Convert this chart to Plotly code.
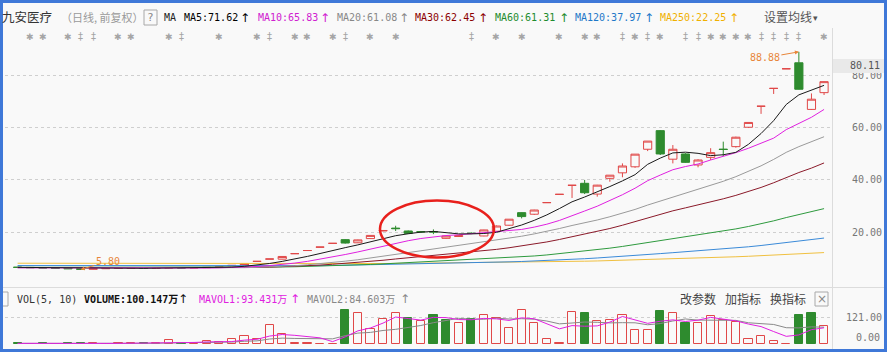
import plotly.graph_objects as go

W, H = 894, 354
def px(x): return x / W
def py(y): return 1 - y / H

# ---------------- data ----------------
idx = list(range(65))
opens = [6.7, 6.6, 6.5, 6.4, 6.3, 6.1, 5.9, 6.1, 6.2, 6.3, 6.4, 6.3, 6.4, 6.5, 6.4, 6.5, 6.6,
         7.25, 7.1, 8.9, 9.79, 9.75, 11.85, 13.04, 14.34, 15.78, 17.2, 16.0, 17.6, 20.5, 21.6,
         20.5, 20.25, 20.3, 17.7, 18.4, 19.65, 18.6, 20.4, 22.7, 27.5, 26.9, 31.3, 34.48, 37.93,
         38.7, 34.6, 40.6, 42.7, 45.0, 51.7, 58.8, 47.9, 49.9, 45.7, 48.6, 51.75, 52.7, 60.1,
         68.11, 74.92, 82.41, 84.7, 66.9, 73.3]
highs = [6.75, 6.65, 6.55, 6.45, 6.35, 6.15, 6.15, 6.25, 6.35, 6.45, 6.45, 6.45, 6.55, 6.55, 6.55, 6.65, 6.75,
         7.37, 8.1, 8.91, 9.8, 10.78, 11.86, 13.05, 14.35, 15.79, 17.37, 17.2, 18.81, 20.69, 22.5,
         20.7, 20.5, 21.1, 18.7, 18.8, 20.0, 20.95, 22.6, 25.0, 27.6, 28.6, 31.35, 34.49, 37.94,
         40.0, 38.1, 41.8, 46.3, 49.83, 54.81, 59.0, 53.3, 50.2, 47.9, 52.1, 54.6, 56.5, 61.93,
         68.12, 74.93, 82.42, 88.88, 73.0, 77.6]
lows = [6.55, 6.45, 6.35, 6.25, 6.05, 5.80, 5.88, 6.05, 6.15, 6.25, 6.25, 6.28, 6.35, 6.35, 6.38, 6.45, 6.55,
        7.2, 7.05, 8.9, 9.79, 9.7, 11.85, 13.04, 14.34, 15.78, 15.7, 15.9, 17.5, 20.4, 20.5,
        19.5, 19.9, 19.3, 17.5, 18.2, 19.3, 18.5, 20.2, 22.5, 25.3, 26.6, 31.3, 34.48, 33.1,
        34.6, 33.6, 39.3, 41.0, 44.6, 51.0, 49.5, 46.3, 46.5, 44.8, 47.6, 49.1, 52.3, 59.8,
        65.2, 72.8, 82.41, 74.5, 66.7, 72.4]
closes = [6.6, 6.5, 6.4, 6.3, 6.1, 5.9, 6.1, 6.2, 6.3, 6.4, 6.3, 6.4, 6.5, 6.4, 6.5, 6.6, 6.7,
          7.37, 8.1, 8.91, 9.8, 10.78, 11.86, 13.05, 14.35, 15.79, 15.9, 17.1, 18.81, 20.69, 21.4,
          19.6, 20.15, 20.1, 18.6, 18.7, 19.55, 20.9, 22.4, 25.0, 26.0, 28.5, 31.35, 34.49, 37.94,
          35.1, 38.0, 41.8, 45.3, 49.83, 54.81, 49.9, 51.7, 46.7, 47.6, 50.4, 51.6, 56.3, 61.93,
          68.12, 74.93, 82.42, 74.6, 70.8, 77.5]

ma5 = [6.62, 6.58, 6.52, 6.45, 6.38, 6.24, 6.16, 6.12, 6.12, 6.18, 6.26, 6.32, 6.38, 6.40, 6.42, 6.48, 6.54,
       6.70, 7.02, 7.48, 8.10, 8.90, 9.80, 10.80, 11.90, 13.10, 14.14, 15.20, 16.34, 17.58, 18.70,
       19.44, 20.06, 20.34, 19.96, 19.40, 19.40, 19.54, 20.00, 21.28, 22.78, 24.56, 26.64, 29.06, 31.64,
       33.46, 35.36, 37.46, 39.62, 42.00, 45.94, 48.32, 50.30, 50.58, 50.14, 49.26, 49.60, 50.52, 53.58,
       57.70, 62.62, 68.80, 72.46, 74.22, 76.08]
ma10 = [6.45, 6.43, 6.41, 6.39, 6.37, 6.34, 6.32, 6.30, 6.29, 6.28, 6.25, 6.24, 6.25, 6.26, 6.30, 6.37, 6.43,
        6.54, 6.71, 6.95, 7.29, 7.72, 8.25, 8.91, 9.69, 10.60, 11.52, 12.50, 13.57, 14.74, 15.90,
        16.79, 17.63, 18.34, 18.77, 19.05, 19.42, 19.80, 20.17, 20.62, 21.09, 21.98, 23.09, 24.53, 26.46,
        28.12, 29.96, 32.05, 34.34, 36.82, 39.70, 41.84, 43.88, 45.10, 46.07, 47.60, 48.96, 50.41, 52.08,
        53.92, 55.94, 59.20, 61.49, 63.90, 66.89]
ma20 = [6.50, 6.49, 6.48, 6.47, 6.46, 6.45, 6.44, 6.43, 6.42, 6.41, 6.40, 6.39, 6.38, 6.37, 6.36, 6.36, 6.36,
        6.42, 6.50, 6.62, 6.77, 6.98, 7.25, 7.59, 8.00, 8.49, 8.98, 9.52, 10.14, 10.85, 11.60,
        12.26, 12.94, 13.63, 14.23, 14.83, 15.47, 16.15, 16.87, 17.68, 18.50, 19.39, 20.36, 21.44, 22.60,
        23.59, 24.69, 25.93, 27.26, 28.72, 30.40, 31.91, 33.49, 34.82, 36.27, 37.86, 39.46, 41.23, 43.21,
        45.37, 47.82, 50.52, 52.69, 54.50, 56.48]
ma30 = [6.55, 6.54, 6.53, 6.52, 6.50, 6.48, 6.46, 6.45, 6.44, 6.43, 6.42, 6.41, 6.40, 6.40, 6.40, 6.40, 6.41,
        6.45, 6.50, 6.58, 6.69, 6.84, 7.02, 7.24, 7.50, 7.81, 8.13, 8.49, 8.90, 9.33, 9.82,
        10.25, 10.71, 11.17, 11.59, 12.01, 12.46, 12.95, 13.48, 14.10, 14.76, 15.50, 16.32, 17.26, 18.30,
        19.26, 20.30, 21.45, 22.70, 24.06, 25.57, 26.87, 28.20, 29.33, 30.44, 31.59, 32.78, 34.09, 35.53,
        37.12, 38.91, 41.01, 42.82, 44.51, 46.47]
ma60 = [6.62, 6.62, 6.61, 6.61, 6.60, 6.60, 6.59, 6.59, 6.58, 6.58, 6.57, 6.57, 6.57, 6.56, 6.56, 6.56, 6.56,
        6.58, 6.60, 6.64, 6.70, 6.77, 6.85, 6.95, 7.07, 7.22, 7.37, 7.54, 7.73, 7.94, 8.19,
        8.40, 8.62, 8.85, 9.05, 9.25, 9.46, 9.70, 9.96, 10.27, 10.59, 10.96, 11.36, 11.83, 12.35,
        12.83, 13.36, 13.95, 14.60, 15.32, 16.13, 16.86, 17.61, 18.29, 18.97, 19.70, 20.46, 21.29, 22.22,
        23.23, 24.37, 25.63, 26.77, 27.84, 29.03]
ma120 = [7.31, 7.30, 7.29, 7.27, 7.26, 7.25, 7.23, 7.22, 7.21, 7.19, 7.18, 7.17, 7.15, 7.14, 7.12, 7.11, 7.10,
         7.10, 7.11, 7.12, 7.13, 7.15, 7.18, 7.22, 7.28, 7.34, 7.42, 7.50, 7.58, 7.67, 7.77,
         7.86, 7.96, 8.05, 8.15, 8.25, 8.35, 8.47, 8.59, 8.72, 8.86, 9.02, 9.20, 9.41, 9.65,
         9.92, 10.20, 10.48, 10.80, 11.15, 11.52, 11.87, 12.22, 12.55, 12.90, 13.25, 13.62, 14.02, 14.47,
         14.96, 15.50, 16.10, 16.69, 17.22, 17.80]
ma250 = [8.20, 8.19, 8.18, 8.17, 8.16, 8.15, 8.14, 8.12, 8.10, 8.08, 7.98, 7.96, 7.95, 7.94, 7.93, 7.92, 7.91,
         7.90, 7.89, 7.89, 7.89, 7.90, 7.90, 7.92, 7.94, 7.96, 7.98, 8.01, 8.04, 8.08, 8.12,
         8.16, 8.20, 8.24, 8.27, 8.30, 8.34, 8.38, 8.43, 8.48, 8.54, 8.61, 8.69, 8.78, 8.88,
         8.97, 9.07, 9.19, 9.32, 9.46, 9.63, 9.77, 9.93, 10.06, 10.20, 10.34, 10.49, 10.66, 10.85,
         11.06, 11.30, 11.56, 11.80, 12.01, 12.26]

volumes = [3, 2, 3, 2, 3, 4, 3, 2, 3, 5, 3, 4, 19, 5, 5, 14, 10, 22, 38, 25, 88, 46, 3, 3, 2, 1,
           156, 141, 70, 114, 141, 122, 104, 133, 109, 96, 117, 136, 122, 73, 156, 96, 22, 3, 148,
           141, 104, 109, 133, 66, 65, 152, 141, 96, 96, 129, 112, 101, 22, 38, 14, 2, 133, 144, 81]
# 1 = up (red, hollow), -1 = down (green, solid)
vol_dir = [-1, -1, -1, -1, -1, -1, 1, 1, 1, 1, -1, 1, 1, -1, 1, 1, 1, 1, 1, 1, 1, 1, 1, 1, 1, 1,
           -1, 1, 1, 1, 1, -1, 1, -1, -1, 1, -1, 1, 1, 1, 1, 1, 1, 1, 1,
           -1, 1, 1, 1, 1, 1, -1, 1, -1, 1, 1, 1, 1, 1, 1, 1, 1, -1, -1, 1]
mavol1 = [3.0, 2.5, 2.7, 2.5, 2.6, 2.8, 3.0, 2.8, 3.0, 3.4, 3.2, 3.4, 6.8, 7.2, 7.2, 9.4, 10.6,
          11.2, 17.8, 21.8, 36.6, 43.8, 40.0, 33.0, 28.4, 11.0, 33.0, 60.6, 74.0, 96.4, 124.4,
          117.6, 110.2, 122.8, 121.8, 112.8, 111.8, 118.2, 116.0, 108.8, 120.8, 116.6, 93.8, 70.0, 85.0,
          82.0, 83.6, 101.0, 127.0, 110.6, 95.4, 105.0, 111.4, 104.0, 110.0, 122.8, 114.8, 106.8, 92.0,
          80.4, 57.4, 35.4, 41.8, 66.2, 74.8]
mavol2 = [2.8, 2.6, 2.7, 2.6, 2.6, 2.8, 2.9, 2.8, 2.9, 3.0, 3.0, 3.2, 4.8, 5.1, 5.3, 6.3, 7.0,
          9.0, 12.5, 14.5, 23.0, 27.2, 25.6, 25.4, 25.1, 23.8, 38.4, 50.3, 53.5, 62.4, 67.7,
          75.3, 85.4, 98.4, 109.1, 118.6, 114.7, 114.2, 119.4, 115.3, 116.8, 114.2, 106.0, 93.0, 96.9,
          101.4, 100.1, 97.4, 98.5, 97.8, 88.7, 94.3, 106.2, 115.5, 110.3, 109.1, 109.9, 109.1, 98.0,
          95.2, 90.1, 75.1, 74.3, 79.1, 77.6]

price_ticks = [20, 40, 60, 80]
price_ticktext = ["20.00", "40.00", "60.00", "80.00"]
vol_ticks = [121]
vol_ticktext = ["121.00"]

# event marker row: candle index and symbol kind (s = star, d = double)
ev_idx = [1, 2, 4, 5, 6, 8, 9, 12, 13, 16, 19, 20, 22, 23, 25, 26, 28, 30,
          36, 38, 40, 43, 45, 46, 48, 49, 50, 51, 53, 54, 55, 56, 57, 58, 59, 60, 61, 62, 64]
ev_kind = ["s", "s", "s", "d", "d", "s", "s", "s", "d", "s", "s", "d", "s", "s", "s", "d", "s", "s",
           "d", "s", "s", "s", "s", "s", "d", "s", "d", "s", "d", "d", "s", "s", "s", "s", "d", "d", "d", "d", "s"]

ma_names = ["MA5", "MA10", "MA20", "MA30", "MA60", "MA120", "MA250"]
ma_header_vals = ["71.62", "65.83", "61.08", "62.45", "61.31", "37.97", "22.25"]

# ---------------- styles ----------------
BG = "#f9f9f9"
RED = "#e04848"
GREEN = "#2e8b2e"
MA_COLORS = ["#1a1a1a", "#e020e0", "#9a9a9a", "#8b1a2a", "#2e9a3e", "#3a8ad8", "#f0c040"]
HDR_COLORS = ["#000000", "#d020d0", "#888888", "#8b0000", "#1e8b2e", "#1e78c8", "#f0b000"]
MONO = "DejaVu Sans Mono"
CJK = "Noto Sans CJK SC"
XR = [-1.0, 64.63]

fig = go.Figure()

fig.add_trace(go.Candlestick(
    x=idx, open=opens, high=highs, low=lows, close=closes,
    increasing=dict(line=dict(color=RED, width=1), fillcolor=BG),
    decreasing=dict(line=dict(color=GREEN, width=1), fillcolor=GREEN),
    whiskerwidth=0, xaxis="x", yaxis="y", hoverinfo="skip", showlegend=False))

for ma, col in zip([ma250, ma120, ma60, ma30, ma20, ma10, ma5], MA_COLORS[::-1]):
    fig.add_trace(go.Scatter(x=idx, y=ma, mode="lines", line=dict(color=col, width=1),
                             xaxis="x", yaxis="y", hoverinfo="skip", showlegend=False))

fig.add_trace(go.Bar(
    x=idx, y=volumes, width=0.65,
    marker=dict(color=[BG if d > 0 else GREEN for d in vol_dir],
                line=dict(color=[RED if d > 0 else GREEN for d in vol_dir], width=1)),
    xaxis="x2", yaxis="y2", hoverinfo="skip", showlegend=False))
fig.add_trace(go.Scatter(x=idx, y=mavol2, mode="lines", line=dict(color="#8a8a8a", width=1),
                         xaxis="x2", yaxis="y2", hoverinfo="skip", showlegend=False))
fig.add_trace(go.Scatter(x=idx, y=mavol1, mode="lines", line=dict(color="#e020e0", width=1),
                         xaxis="x2", yaxis="y2", hoverinfo="skip", showlegend=False))

p0 = (284.7 - 287) / 2.62
p1 = (284.7 - 40) / 2.62
axis_common = dict(showline=False, zeroline=False, ticks="", showgrid=True,
                   gridcolor="#cfcfcf", griddash="dot", gridwidth=1,
                   tickfont=dict(family=MONO, size=10, color="#777777"))
fig.update_layout(
    width=W, height=H, margin=dict(l=0, r=0, t=0, b=0),
    paper_bgcolor=BG, plot_bgcolor="rgba(0,0,0,0)",
    boxgap=0.19, boxgroupgap=0.2, bargap=0,
    xaxis=dict(domain=[px(5), px(832)], range=XR, visible=False, anchor="y",
               rangeslider=dict(visible=False), fixedrange=True),
    xaxis2=dict(domain=[px(5), px(832)], range=XR, visible=False, anchor="y2"),
    yaxis=dict(domain=[py(287), py(40)], range=[p0, p1], anchor="free", position=px(882),
               side="left", tickvals=price_ticks, ticktext=price_ticktext, **axis_common),
    yaxis2=dict(domain=[py(344), py(305)], range=[0, 180], anchor="free", position=px(882),
                side="left", tickvals=vol_ticks, ticktext=vol_ticktext, **axis_common),
)

shapes = []
# white outside the blue frame
shapes.append(dict(type="rect", xref="paper", yref="paper", x0=px(887), x1=1, y0=0, y1=1,
                   fillcolor="#ffffff", line=dict(width=0), layer="below"))
shapes.append(dict(type="rect", xref="paper", yref="paper", x0=0, x1=1, y0=0, y1=py(352),
                   fillcolor="#ffffff", line=dict(width=0), layer="below"))
# separators
shapes.append(dict(type="line", xref="paper", yref="paper", x0=px(832.5), x1=px(832.5),
                   y0=py(28), y1=py(350), line=dict(color="#dcdcdc", width=1)))
shapes.append(dict(type="line", xref="paper", yref="paper", x0=px(3), x1=px(885),
                   y0=py(287.5), y1=py(287.5), line=dict(color="#dcdcdc", width=1)))
# question boxes and close box
for (x0, y0, x1, y1) in [(144, 10, 157, 25), (-2, 292, 8, 306), (815, 292, 828, 306)]:
    shapes.append(dict(type="rect", xref="paper", yref="paper", x0=px(x0), x1=px(x1),
                       y0=py(y1), y1=py(y0), line=dict(color="#a8a8a8", width=1),
                       fillcolor="rgba(0,0,0,0)"))
# red ellipse highlight
shapes.append(dict(type="circle", xref="paper", yref="paper", x0=px(380), x1=px(494),
                   y0=py(257.5), y1=py(200.5), line=dict(color="#e8201c", width=2.5)))
# current price box
shapes.append(dict(type="rect", xref="paper", yref="paper", x0=px(833), x1=px(885),
                   y0=py(73), y1=py(59), fillcolor="#e9e9e9", line=dict(width=0), layer="above"))
# blue frame
shapes.append(dict(type="rect", xref="paper", yref="paper", x0=px(1.5), x1=px(885.5),
                   y0=py(350.5), y1=py(1.5), line=dict(color="#3f78d8", width=3),
                   fillcolor="rgba(0,0,0,0)", layer="above"))
fig.update_layout(shapes=shapes)

ann = []
def txt(x, y, s, color, size, family=MONO, anchor="left"):
    ann.append(dict(xref="paper", yref="paper", x=px(x), y=py(y), text=s, showarrow=False,
                    xanchor=anchor, yanchor="middle",
                    font=dict(family=family, size=size, color=color)))

# header line
txt(0, 17, "九安医疗", "#333333", 12.5, CJK)
txt(59, 17, "（日线, 前复权）", "#999999", 11, CJK)
txt(150.5, 17.5, "?", "#888888", 11, MONO, "center")
txt(162, 18, "MA", "#222222", 10)
hdr_x = [182, 256, 335, 413, 493, 573, 658]
arr_x = [245, 325, 404, 483, 564, 649, 734]
for name, val, col, x0, xa in zip(ma_names, ma_header_vals, HDR_COLORS, hdr_x, arr_x):
    txt(x0, 18, f"{name}:{val}", col, 10)
    txt(xa, 18, "↑", col, 12, "DejaVu Sans", "center")
txt(762, 17, "设置均线", "#555555", 12, CJK)
txt(815, 18, "▾", "#555555", 9, "DejaVu Sans", "center")

# volume header
txt(15, 299, "VOL(5, 10)", "#333333", 10)
txt(82, 299, "<b>VOLUME:100.147万</b>", "#111111", 10, MONO + ", " + CJK)
txt(183, 299, "↑", "#111111", 12, "DejaVu Sans", "center")
txt(197, 299, "MAVOL1:93.431万", "#e020e0", 10, MONO + ", " + CJK)
txt(295, 299, "↑", "#e020e0", 12, "DejaVu Sans", "center")
txt(305, 299, "MAVOL2:84.603万", "#888888", 10, MONO + ", " + CJK)
txt(405, 299, "↑", "#888888", 12, "DejaVu Sans", "center")
txt(678, 298, "改参数", "#444444", 12, CJK)
txt(723, 298, "加指标", "#444444", 12, CJK)
txt(768, 298, "换指标", "#444444", 12, CJK)
txt(821.5, 299, "×", "#888888", 12, "DejaVu Sans", "center")

# right axis extras
txt(882, 66, "80.11", "#555555", 10, MONO, "right")
txt(882, 337, "0.00", "#777777", 10, MONO, "right")

# event marker row
for i, k in zip(ev_idx, ev_kind):
    ann.append(dict(xref="x", yref="paper", x=i, y=py(37), showarrow=False,
                    text="✱" if k == "s" else "‡", xanchor="center", yanchor="middle",
                    font=dict(family="DejaVu Sans", size=9 if k == "s" else 10, color="#a5a5a5")))

# high / low labels
hi_i = highs.index(max(highs))
lo_i = lows.index(min(lows))
ann.append(dict(xref="x", yref="y", x=hi_i, y=highs[hi_i], text=f"{highs[hi_i]:.2f}",
                showarrow=True, arrowhead=2, arrowsize=0.8, arrowwidth=1, arrowcolor="#e8863a",
                ax=-34, ay=6, font=dict(family=MONO, size=10, color="#e8863a")))
ann.append(dict(xref="x", yref="y", x=lo_i, y=lows[lo_i], text=f"{lows[lo_i]:.2f}",
                showarrow=True, arrowhead=2, arrowsize=0.8, arrowwidth=1, arrowcolor="#e8863a",
                ax=27, ay=-8, font=dict(family=MONO, size=10, color="#e8863a")))

fig.update_layout(annotations=ann)
fig.write_html("out.html")
